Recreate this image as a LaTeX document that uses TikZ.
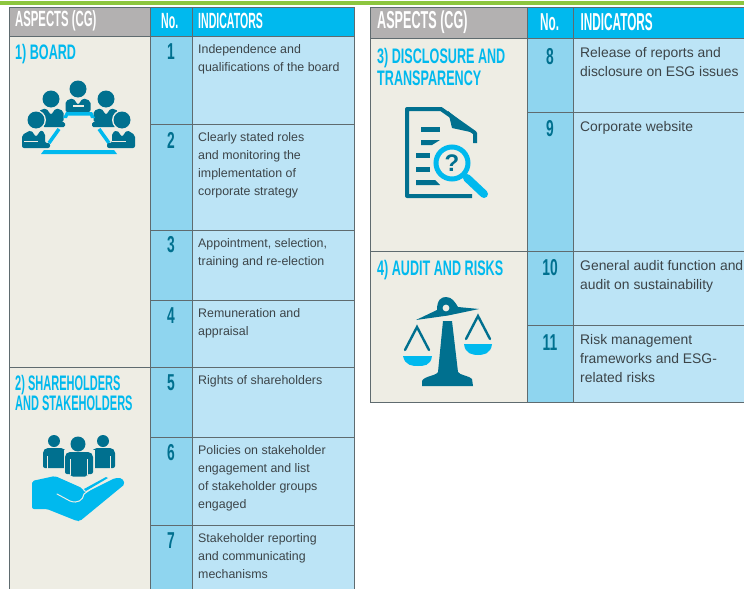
\documentclass[tikz,border=0pt]{standalone}
\usepackage{fontspec}
\setmainfont{Liberation Sans}
\newfontfamily\condfont[FakeStretch=0.48]{Liberation Sans Bold}
\newfontfamily\condhead[FakeStretch=0.515]{Liberation Sans Bold}
\newfontfamily\condasp[FakeStretch=0.525]{Liberation Sans Bold}
\newfontfamily\condwide[FakeStretch=0.6]{Liberation Sans Bold}
\newfontfamily\condnum[FakeStretch=0.6]{Liberation Sans Bold}
\definecolor{headgrey}{HTML}{B3B1B1}
\definecolor{beige}{HTML}{EEEDE4}
\definecolor{headblue}{HTML}{00B9EE}
\definecolor{nocol}{HTML}{8FD5EF}
\definecolor{indcol}{HTML}{BCE4F6}
\definecolor{teal}{HTML}{00708F}
\definecolor{rule}{HTML}{5F6B6F}
\definecolor{bandgreen}{HTML}{8DC63F}
\definecolor{bodytext}{HTML}{3C4448}
\tikzset{
 hd/.style={anchor=west,inner sep=0pt,text=white,font=\condfont\fontsize{22}{22}\selectfont},
 hdr/.style={hd,font=\condfont\fontsize{24.5}{24.5}\selectfont},
 hdg/.style={hd,font=\condhead\fontsize{22}{22}\selectfont},
 hdgr/.style={hd,font=\condhead\fontsize{24.5}{24.5}\selectfont},
 num/.style={anchor=center,inner sep=0pt,text=teal,font=\condnum\fontsize{23}{23}\selectfont},
 ind/.style={anchor=north west,inner sep=0pt,align=left,text=bodytext,font=\fontsize{12.4}{18}\selectfont},
 indr/.style={ind,font=\fontsize{13.9}{19}\selectfont},
 asp/.style={anchor=north west,inner sep=0pt,align=left,text=headblue,font=\condasp\fontsize{21}{20}\selectfont},
 aspw/.style={asp,font=\condwide\fontsize{21}{22}\selectfont},
 rl/.style={draw=rule,line width=1pt},
}
\newcommand{\boardperson}[2]{%
 \fill[teal] (#1,#2) circle (8.5);
 \fill[teal,rounded corners=2] (#1-12.5,#2+23) -- (#1-12.5,#2+12) -- (#1-5,#2+9) -- (#1,#2+16) -- (#1+5,#2+9) -- (#1+12.5,#2+12) -- (#1+12.5,#2+23) -- cycle;
}
\begin{document}
\begin{tikzpicture}[x=1pt,y=-1pt]
\useasboundingbox (0,0) rectangle (744,589);
\fill[white] (0,0) rectangle (744,589);
\fill[bandgreen] (0,1) rectangle (744,5);
% left table
\fill[headgrey] (9,7) rectangle (150,36);
\fill[headblue] (150,7) rectangle (354,36);
\fill[beige] (9,36) rectangle (150,589);
\fill[nocol] (150,36) rectangle (192,589);
\fill[indcol] (192,36) rectangle (354,589);
\draw[rl] (9,7) -- (354,7);
\draw[rl] (9,36) -- (354,36);
\draw[rl] (9,7) -- (9,589);
\draw[rl] (150.5,7) -- (150.5,589);
\draw[rl] (192,7) -- (192,589);
\draw[rl] (354,7) -- (354,589);
\foreach \y in {124,230,300,437,525} \draw[rl] (150.5,\y) -- (354,\y);
\draw[rl] (9,367) -- (354,367);
% right table
\fill[headgrey] (370,7) rectangle (527,38);
\fill[headblue] (527,7) rectangle (744,38);
\fill[beige] (370,38) rectangle (527,402);
\fill[nocol] (527,38) rectangle (573,402);
\fill[indcol] (573,38) rectangle (744,402);
\draw[rl] (370,7) -- (744,7);
\draw[rl] (370,38.5) -- (744,38.5);
\draw[rl] (370,7) -- (370,402.5) -- (744,402.5);
\draw[rl] (527.5,7) -- (527.5,402.5);
\draw[rl] (573.5,7) -- (573.5,402.5);
\foreach \y in {112,325} \draw[rl] (527.5,\y) -- (744,\y);
\draw[rl] (370,251) -- (744,251);
% left headers
\node[hdg] (h1) at (15,21) {ASPECTS (CG)};
\node[hd] (h2) at (161,21) {No.};
\node[hd] (h3) at (198,21) {INDICATORS};
\node[aspw] (a1) at (15,44) {1) BOARD};
\node[asp] (a2) at (15,375) {2) SHAREHOLDERS\\AND STAKEHOLDERS};
\node[num] (n1) at (171,52) {1};
\node[num] (n2) at (171,140) {2};
\node[num] (n3) at (171,245) {3};
\node[num] (n4) at (171,316) {4};
\node[num] (n5) at (171,383) {5};
\node[num] (n6) at (171,453) {6};
\node[num] (n7) at (171,541) {7};
\node[ind] (t1) at (198,44.5) {Independence and\\qualifications of the board};
\node[ind] (t2) at (198,132) {Clearly stated roles\\and monitoring the\\implementation of\\corporate strategy};
\node[ind] (t3) at (198,238) {Appointment, selection,\\training and re-election};
\node[ind] (t4) at (198,308.5) {Remuneration and\\appraisal};
\node[ind] (t5) at (198,375) {Rights of shareholders};
\node[ind] (t6) at (198,445) {Policies on stakeholder\\engagement and list\\of stakeholder groups\\engaged};
\node[ind] (t7) at (198,533) {Stakeholder reporting\\and communicating\\mechanisms};
% right headers
\node[hdgr] (h4) at (377,22) {ASPECTS (CG)};
\node[hdr] (h5) at (540,22) {No.};
\node[hdr] (h6) at (580.5,22) {INDICATORS};
\node[aspw] (a3) at (377,48) {3) DISCLOSURE AND\\TRANSPARENCY};
\node[aspw] (a4) at (377,260) {4) AUDIT AND RISKS};
\node[num] (n8) at (550,57) {8};
\node[num] (n9) at (550,129) {9};
\node[num] (n10) at (550,268) {10};
\node[num] (n11) at (550,343) {11};
\node[indr] (t8) at (580,47) {Release of reports and\\disclosure on ESG issues};
\node[indr] (t9) at (580,121.5) {Corporate website};
\node[indr] (t10) at (580,260.5) {General audit function and\\audit on sustainability};
\node[indr] (t11) at (580,334) {Risk management\\frameworks and ESG-\\related risks};
% board icon
\boardperson{78}{89}
\boardperson{51}{99}
\boardperson{106}{99}
\fill[beige] (73,105) rectangle (84,107);
\fill[headblue] (63,118) -- (66,112) -- (92,112) -- (95,118) -- (91,118) -- (90,115.5) -- (68,115.5) -- (67,118) -- cycle;
\draw[headblue,line width=3.5pt] (59,129) -- (49,143);
\draw[headblue,line width=3.5pt] (99,129) -- (109,143);
\fill[headblue] (44,150) -- (114,150) -- (117,154) -- (41,154) -- cycle;
\fill[teal,rounded corners=1.5] (43,122) rectangle (65,127);
\fill[teal,rounded corners=1.5] (92,122) rectangle (116,127);
\fill[beige] (36,120) circle (10);
\fill[beige] (122,120) circle (10);
\fill[teal] (36,120) circle (8.5);
\fill[teal] (122,120) circle (8.5);
\fill[teal,rounded corners=2] (22,148) -- (22,135) -- (31,130) -- (36,137) -- (41,130) -- (45,133) -- (45,143) -- (50,143) -- (50,148) -- cycle;
\fill[teal,rounded corners=2] (135,148) -- (135,135) -- (127,130) -- (122,137) -- (117,130) -- (112,133) -- (112,143) -- (107,143) -- (107,148) -- cycle;
\fill[beige] (24,141) rectangle (38,142);
\fill[beige] (112,141) rectangle (126,142);
% shareholders icon
\fill[teal] (54,441) circle (6);
\fill[teal] (103,441) circle (6);
\fill[teal,rounded corners=2] (43,468) -- (43,451) -- (46,448) -- (63,448) -- (66,451) -- (66,468) -- cycle;
\fill[teal,rounded corners=2] (92,468) -- (92,451) -- (95,448) -- (112,448) -- (115,451) -- (115,468) -- cycle;
\draw[beige,line width=0.8pt] (47.5,456) -- (47.5,469);
\draw[beige,line width=0.8pt] (110.5,456) -- (110.5,469);
\fill[beige] (63.5,450) rectangle (94.5,478);
\fill[teal] (78,444) circle (7.5);
\fill[teal,rounded corners=2] (65,474) -- (65,455) -- (68,452) -- (90,452) -- (93,455) -- (93,474) -- (87,474) -- (87,476.5) -- (71,476.5) -- (71,474) -- cycle;
\draw[beige,line width=0.8pt] (70.5,459) -- (70.5,475);
\draw[beige,line width=0.8pt] (87.5,459) -- (87.5,475);
\fill[headblue,rounded corners=2] (32,481) -- (55,476) -- (82,488) -- (85,493) -- (115,478) -- (122,478) -- (125,484) -- (80,521) -- (77,521) -- (47,509) -- (32,509) -- cycle;
\draw[beige,line width=1pt,line cap=round] (57,494) -- (70,501) .. controls (78,504) and (83,500) .. (84,494) -- (106,478);
\fill[headblue] (84,489) -- (106,477) -- (108,478) -- (86,491) -- cycle;
% disclosure icon
\draw[teal,line width=4pt,line join=round] (475,143) -- (475,133) -- (441,109) -- (407,109) -- (407,196) -- (472,196);
\fill[teal] (448,111) -- (475,133) -- (452,128) -- cycle;
\fill[teal] (421,127) rectangle (440,132);
\fill[teal] (421,140) -- (440,140) -- (432,145) -- (421,145) -- cycle;
\fill[teal] (416,153) rectangle (430,158);
\fill[teal] (416,167) rectangle (430,172);
\fill[teal] (416,180) -- (435,180) -- (440,185) -- (416,185) -- cycle;
\fill[beige] (452,163) circle (18);
\draw[headblue,line width=5pt] (452,163) circle (16);
\draw[headblue,line width=8pt,line cap=round] (467,178) -- (484,194);
\node[inner sep=0pt,text=teal,font=\bfseries\fontsize{24}{24}\selectfont] (q) at (452,163) {?};
% scales icon
\fill[teal] (416,320) -- (437,310) .. controls (437,300) and (441,297) .. (446,297) .. controls (452,297) and (455,302) .. (458,307) -- (479,309) -- (448,315.5) -- cycle;
\fill[beige] (446,308) circle (3.4);
\fill[teal] (443,321) -- (452,321) -- (458,372) .. controls (459,375) and (470,376) .. (472,379) -- (473,386) -- (422,386) -- (422,381) .. controls (424,376) and (436,376) .. (438,372) -- cycle;
\draw[teal,line width=2.4pt,line cap=round] (405,350) -- (417,327) -- (429,350);
\draw[teal,line width=2.4pt,line cap=round] (466,339) -- (478,316) -- (490,339);
\fill[headblue] (403,356) -- (432,356) .. controls (431,366) and (423,366) .. (418,366) .. controls (413,366) and (405,366) .. (403,356) -- cycle;
\fill[headblue] (464,344) -- (492,344) .. controls (491,354) and (483,355) .. (478,355) .. controls (473,355) and (465,354) .. (464,344) -- cycle;
\end{tikzpicture}
\end{document}
